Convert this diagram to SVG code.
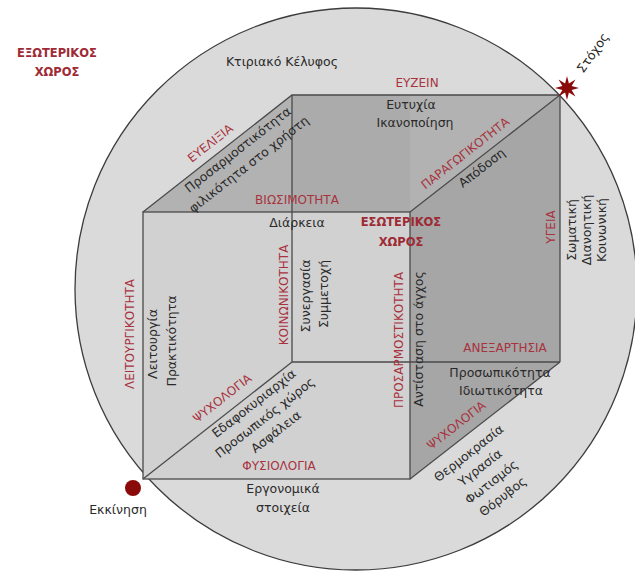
<svg xmlns="http://www.w3.org/2000/svg" width="635" height="572" viewBox="0 0 635 572">
<defs>
<style>
.blk{font-family:"DejaVu Sans","Liberation Sans",sans-serif;font-size:12.5px;fill:#2a2a2a;text-anchor:middle}
.red{font-family:"DejaVu Sans","Liberation Sans",sans-serif;font-size:12px;fill:#a8323e;text-anchor:middle}
.redb{font-family:"DejaVu Sans","Liberation Sans",sans-serif;font-size:11.5px;font-weight:bold;fill:#9e2a35;text-anchor:middle}
.edge{stroke:#4a4a4a;stroke-width:1.3;fill:none}
</style>
</defs>
<rect width="635" height="572" fill="#ffffff"/>
<g id="ring">
<circle cx="356" cy="289" r="281" fill="#dadada" stroke="#3c3c3c" stroke-width="1.3"/>
</g>
<g id="cube">
<polygon points="143,212 292,95 560,95 410,212" fill="#b2b2b2"/>
<polygon points="410,212 560,95 560,362 410,479" fill="#a6a6a6"/>
<rect x="292" y="95" width="118" height="117" fill="#ababab"/>
<rect x="143" y="212" width="267" height="267" fill="#d1d1d1"/>
</g>
<g id="connectors">
<polyline class="edge" points="143,212 292,95 560,95 410,212"/>
<line class="edge" x1="292" y1="95" x2="292" y2="362"/>
<line class="edge" x1="292" y1="362" x2="560" y2="362" stroke="#2a2a2a"/>
<line class="edge" x1="143" y1="479" x2="292" y2="362"/>
<line class="edge" x1="560" y1="95" x2="560" y2="362"/>
<line class="edge" x1="560" y1="362" x2="410" y2="479"/>
<rect class="edge" x="143" y="212" width="267" height="267"/>
</g>
<g id="start">
<circle cx="133" cy="488" r="8" fill="#8a0a0a"/>
<text class="blk" x="118" y="514">Εκκίνηση</text>
</g>
<g id="goal">
<polygon points="567,76 568.9,83.4 575.5,79.5 571.6,86.1 579,88 571.6,89.9 575.5,96.5 568.9,92.6 567,100 565.1,92.6 558.5,96.5 562.4,89.9 555,88 562.4,86.1 558.5,79.5 565.1,83.4" fill="#8a0a0a"/>
<text class="blk" transform="translate(593,53) rotate(-55)" x="0" y="4">Στόχος</text>
</g>
<g id="exterior">
<text class="redb" x="57" y="57">ΕΞΩΤΕΡΙΚΟΣ</text>
<text class="redb" x="57" y="76">ΧΩΡΟΣ</text>
</g>
<g id="shell"><text class="blk" x="282" y="66">Κτιριακό Κέλυφος</text></g>
<g id="interior">
<text class="redb" x="401" y="226">ΕΣΩΤΕΡΙΚΟΣ</text>
<text class="redb" x="401" y="246">ΧΩΡΟΣ</text>
</g>
<g id="euzein">
<text class="red" x="417" y="87">ΕΥΖΕΙΝ</text>
<text class="blk" x="411" y="109">Ευτυχία</text>
<text class="blk" x="415" y="127">Ικανοποίηση</text>
</g>
<g id="eueliksia">
<text class="red" transform="translate(210,143) rotate(-38)" x="0" y="4.5">ΕΥΕΛΙΞΙΑ</text>
<text class="blk" transform="translate(238,150) rotate(-38)" x="0" y="4">Προσαρμοστικότητα</text>
<text class="blk" transform="translate(249,164.5) rotate(-38)" x="0" y="4">φιλικότητα στο χρήστη</text>
</g>
<g id="paragogikotita">
<text class="red" transform="translate(465,153) rotate(-38)" x="0" y="4.5">ΠΑΡΑΓΩΓΙΚΟΤΗΤΑ</text>
<text class="blk" transform="translate(482,168) rotate(-38)" x="0" y="4">Απόδοση</text>
</g>
<g id="biosimotita">
<text class="red" x="297" y="204">ΒΙΩΣΙΜΟΤΗΤΑ</text>
<text class="blk" x="297" y="227">Διάρκεια</text>
</g>
<g id="koinonikotita">
<text class="red" transform="translate(283,295) rotate(-90)" x="0" y="4.5">ΚΟΙΝΩΝΙΚΟΤΗΤΑ</text>
<text class="blk" transform="translate(306,296) rotate(-90)" x="0" y="4">Συνεργασία</text>
<text class="blk" transform="translate(324,294) rotate(-90)" x="0" y="4">Συμμετοχή</text>
</g>
<g id="prosarmostikotita">
<text class="red" transform="translate(398,340) rotate(-90)" x="0" y="4.5">ΠΡΟΣΑΡΜΟΣΤΙΚΟΤΗΤΑ</text>
<text class="blk" transform="translate(419,339) rotate(-90)" x="0" y="4">Αντίσταση στο άγχος</text>
</g>
<g id="ygeia">
<text class="red" transform="translate(550,227) rotate(-90)" x="0" y="4.5">ΥΓΕΙΑ</text>
<text class="blk" transform="translate(572,230) rotate(-90)" x="0" y="4">Σωματική</text>
<text class="blk" transform="translate(587,230) rotate(-90)" x="0" y="4">Διανοητική</text>
<text class="blk" transform="translate(602,230) rotate(-90)" x="0" y="4">Κοινωνική</text>
</g>
<g id="leitourgikotita">
<text class="red" transform="translate(129,334) rotate(-90)" x="0" y="4.5">ΛΕΙΤΟΥΡΓΙΚΟΤΗΤΑ</text>
<text class="blk" transform="translate(153,344) rotate(-90)" x="0" y="4">Λειτουργία</text>
<text class="blk" transform="translate(172,341) rotate(-90)" x="0" y="4">Πρακτικότητα</text>
</g>
<g id="aneksartisia">
<text class="red" x="505" y="352">ΑΝΕΞΑΡΤΗΣΙΑ</text>
<text class="blk" x="500" y="377">Προσωπικότητα</text>
<text class="blk" x="501" y="395">Ιδιωτικότητα</text>
</g>
<g id="psychologia-left">
<text class="red" transform="translate(222,398) rotate(-38)" x="0" y="4.5">ΨΥΧΟΛΟΓΙΑ</text>
<text class="blk" transform="translate(254,403.6) rotate(-38)"><tspan x="0" y="4">Εδαφοκυριαρχία</tspan><tspan x="0" y="22">Προσωπικός χώρος</tspan><tspan x="0" y="40">Ασφάλεια</tspan></text>
</g>
<g id="fysiologia">
<text class="red" x="279" y="470">ΦΥΣΙΟΛΟΓΙΑ</text>
<text class="blk" x="283" y="493">Εργονομικά</text>
<text class="blk" x="283" y="512">στοιχεία</text>
</g>
<g id="psychologia-right">
<text class="red" transform="translate(456,425) rotate(-38)" x="0" y="4.5">ΨΥΧΟΛΟΓΙΑ</text>
<text class="blk" transform="translate(469,453.4) rotate(-38)"><tspan x="0" y="4">Θερμοκρασία</tspan><tspan x="0" y="22.3">Υγρασία</tspan><tspan x="0" y="40.6">Φωτισμός</tspan><tspan x="0" y="59">Θόρυβος</tspan></text>
</g>
</svg>
